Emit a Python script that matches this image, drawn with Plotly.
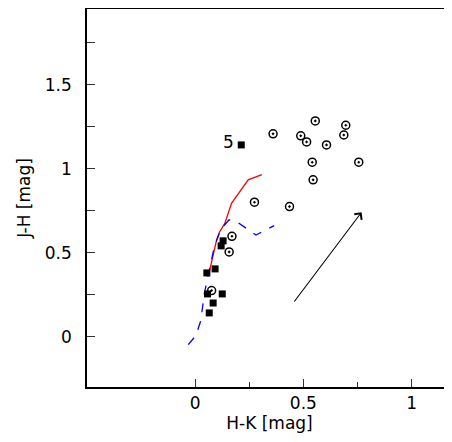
import plotly.graph_objects as go

# Open circles (sample stars)
circ_hk = [0.360, 0.555, 0.696, 0.488, 0.515, 0.607, 0.687, 0.541, 0.756, 0.545,
           0.274, 0.436, 0.170, 0.157, 0.076]
circ_jh = [1.207, 1.284, 1.258, 1.195, 1.159, 1.141, 1.200, 1.038, 1.038, 0.933,
           0.800, 0.774, 0.597, 0.504, 0.274]

# Filled squares
sq_hk = [0.213, 0.129, 0.120, 0.092, 0.054, 0.057, 0.125, 0.083, 0.065]
sq_jh = [1.141, 0.570, 0.540, 0.403, 0.379, 0.254, 0.254, 0.200, 0.141]
sq_label_hk = 0.213
sq_label_jh = 1.141
sq_label = "5"

# Red solid track
red_hk = [0.065, 0.090, 0.100, 0.112, 0.137, 0.168, 0.177, 0.245, 0.308]
red_jh = [0.383, 0.520, 0.580, 0.621, 0.674, 0.793, 0.810, 0.933, 0.964]

# Blue dashed track
blue_hk = [-0.032, 0.003, 0.026, 0.042, 0.065, 0.088, 0.119, 0.157, 0.196, 0.281, 0.365]
blue_jh = [-0.048, 0.006, 0.095, 0.254, 0.393, 0.532, 0.640, 0.695, 0.680, 0.605, 0.661]

# Reddening vector
arrow_tail = (0.453, 0.200)
arrow_head = (0.769, 0.740)

FONT = "DejaVu Sans"

fig = go.Figure()
fig.add_trace(go.Scatter(x=red_hk, y=red_jh, mode="lines",
                         line=dict(color="#ff0000", width=1.3), showlegend=False))
fig.add_trace(go.Scatter(x=blue_hk, y=blue_jh, mode="lines",
                         line=dict(color="#0000ff", width=1.3, dash="dash"), showlegend=False))
fig.add_trace(go.Scatter(x=circ_hk, y=circ_jh, mode="markers",
                         marker=dict(symbol="circle-open-dot", size=8, color="black",
                                     line=dict(width=1.5, color="black")),
                         showlegend=False))
fig.add_trace(go.Scatter(x=sq_hk, y=sq_jh, mode="markers",
                         marker=dict(symbol="square", size=7, color="black"),
                         showlegend=False))

fig.add_annotation(x=sq_label_hk, y=sq_label_jh, text=sq_label, showarrow=False,
                   xanchor="right", yanchor="middle", xshift=-5, yshift=3,
                   font=dict(family=FONT, size=17, color="black"))

fig.add_annotation(x=arrow_head[0], y=arrow_head[1], ax=arrow_tail[0], ay=arrow_tail[1],
                   xref="x", yref="y", axref="x", ayref="y", text="",
                   showarrow=True, arrowhead=4, arrowsize=1.6, arrowwidth=1.1,
                   arrowcolor="black")

axis_common = dict(showgrid=False, zeroline=False, showline=True, linecolor="black",
                   linewidth=1.5, ticks="inside", tickcolor="#333333", ticklen=8,
                   tickwidth=1, automargin=False,
                   tickfont=dict(family=FONT, size=17, color="black"))

fig.update_xaxes(range=[-0.5, 1.187], tickvals=[0, 0.5, 1], ticktext=["0", "0.5", "1"],
                 minor=dict(tickvals=[0.25, 0.75], ticks="inside", ticklen=5,
                            tickcolor="#333333"),
                 mirror=True,
                 title=dict(text="H-K [mag]", standoff=0,
                            font=dict(family=FONT, size=17, color="black")),
                 **axis_common)
fig.update_yaxes(range=[-0.3, 1.95], tickvals=[0, 0.5, 1, 1.5], ticktext=["0", "0.5", "1", "1.5"],
                 minor=dict(tickvals=[0.25, 0.75, 1.25, 1.75], ticks="inside", ticklen=8,
                            tickcolor="#333333"),
                 ticklabelstandoff=10,
                 title=dict(text="J-H [mag]", standoff=10,
                            font=dict(family=FONT, size=17, color="black")),
                 **axis_common)

# page body adds an 8px offset; figure sized/margined to compensate
fig.update_layout(width=444, height=434, margin=dict(l=79, r=0, t=1, b=55),
                  plot_bgcolor="white", paper_bgcolor="white")

fig.write_html("out.html")
